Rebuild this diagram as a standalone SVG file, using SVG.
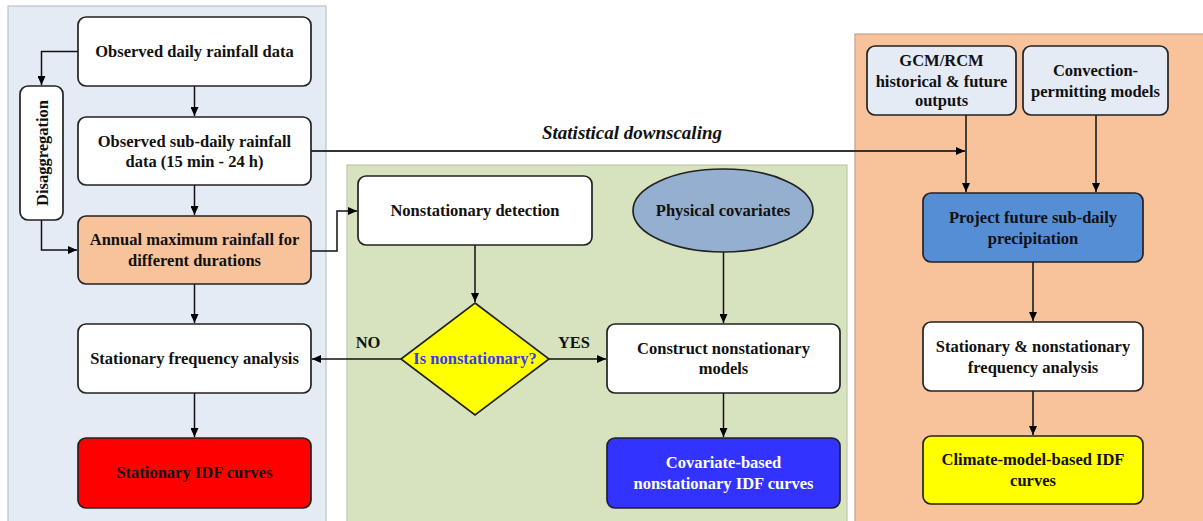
<svg xmlns="http://www.w3.org/2000/svg" width="1203" height="521" viewBox="0 0 1203 521">
<defs>
<marker id="ah" markerUnits="userSpaceOnUse" markerWidth="10" markerHeight="8" refX="9" refY="4" orient="auto">
<path d="M0,0 L9,4 L0,8 Z" fill="#000"/>
</marker>
<style>
.t{font-family:"Liberation Serif","Times New Roman",serif;font-weight:bold;font-size:16.5px;fill:#111;text-anchor:middle}
.box{stroke:#222;stroke-width:1.7}
.c{fill:none;stroke:#111;stroke-width:1.5;marker-end:url(#ah)}
.panel{stroke-width:1.2}
</style>
</defs>
<rect width="1203" height="521" fill="#fff"/>
<g id="panels">
<rect class="panel" x="8" y="6" width="318" height="520" fill="#E4EBF5" stroke="#BCC3CC"/>
<rect class="panel" x="347" y="165" width="500" height="360" fill="#D7E3BF" stroke="#BFC7AE"/>
<rect class="panel" x="855" y="34" width="350" height="490" fill="#F8C39B" stroke="#C9A184"/>
</g>
<g id="connectors">
<path class="c" d="M78,51.5 H41.5 V85"/>
<path class="c" d="M41.5,220 V250 H77"/>
<path class="c" d="M194.5,86 V116"/>
<path class="c" d="M194.5,185 V215"/>
<path class="c" d="M194.5,284 V323"/>
<path class="c" d="M194.5,393 V437"/>
<path class="c" d="M311,251 H337 V211 H357"/>
<path class="c" d="M475,245 V302"/>
<path class="c" d="M401,359 H312"/>
<path class="c" d="M549,359 H606"/>
<path class="c" d="M723.5,252 V323"/>
<path class="c" d="M723.5,393 V437"/>
<path d="M311,151 H965" fill="none" stroke="#333" stroke-width="2" marker-end="url(#ah)"/>
<path class="c" d="M966,115 V192"/>
<path class="c" d="M1096,115 V192"/>
<path class="c" d="M1033,262 V321"/>
<path class="c" d="M1033,391 V435"/>
<text x="632" y="139" style="font-family:'Liberation Serif','Times New Roman',serif;font-weight:bold;font-style:italic;font-size:19px;fill:#111;text-anchor:middle">Statistical downscaling</text>
<text class="t" x="368" y="348">NO</text>
<text class="t" x="574" y="348">YES</text>
</g>
<g id="n-observed-daily">
<rect class="box" x="78" y="17" width="233" height="69" rx="8" fill="#fff"/>
<text class="t" x="194.5" y="57">Observed daily rainfall data</text>
</g>
<g id="n-disaggregation">
<rect class="box" x="20" y="86" width="43" height="134" rx="8" fill="#fff"/>
<text class="t" transform="translate(47.5,153) rotate(-90)" x="0" y="0">Disaggregation</text>
</g>
<g id="n-observed-subdaily">
<rect class="box" x="78" y="117" width="233" height="68" rx="8" fill="#fff"/>
<text class="t" x="194.5" y="146.5">Observed sub-daily rainfall</text>
<text class="t" x="194.5" y="167">data (15 min - 24 h)</text>
</g>
<g id="n-annual-max">
<rect class="box" x="78" y="216" width="233" height="68" rx="8" fill="#F8C39B"/>
<text class="t" x="194.5" y="245">Annual maximum rainfall for</text>
<text class="t" x="194.5" y="265.5">different durations</text>
</g>
<g id="n-stationary-fa">
<rect class="box" x="78" y="324" width="233" height="69" rx="8" fill="#fff"/>
<text class="t" x="194.5" y="364">Stationary frequency analysis</text>
</g>
<g id="n-stationary-idf">
<rect class="box" x="78" y="438" width="233" height="70" rx="8" fill="#FF0000"/>
<text class="t" x="194.5" y="478">Stationary IDF curves</text>
</g>
<g id="n-nonstat-detection">
<rect class="box" x="358" y="176" width="234" height="69" rx="8" fill="#fff"/>
<text class="t" x="475" y="216">Nonstationary detection</text>
</g>
<g id="n-physical-covariates">
<ellipse class="box" cx="723" cy="210.5" rx="90" ry="41.5" fill="#95AFD0"/>
<text class="t" x="723" y="216">Physical covariates</text>
</g>
<g id="n-is-nonstationary">
<polygon class="box" points="475,303 549,359 475,415 401,359" fill="#FFFF00"/>
<text class="t" x="475" y="364" style="fill:#3a3af0">Is nonstationary?</text>
</g>
<g id="n-construct">
<rect class="box" x="607" y="324" width="233" height="69" rx="8" fill="#fff"/>
<text class="t" x="723.5" y="354">Construct nonstationary</text>
<text class="t" x="723.5" y="374">models</text>
</g>
<g id="n-covariate-idf">
<rect class="box" x="607" y="438" width="233" height="70" rx="8" fill="#3333FF"/>
<text class="t" x="723.5" y="468" style="fill:#fff">Covariate-based</text>
<text class="t" x="723.5" y="488.5" style="fill:#fff">nonstationary IDF curves</text>
</g>
<g id="n-gcm">
<rect class="box" x="867" y="46" width="149" height="69" rx="8" fill="#E4EBF5"/>
<text class="t" x="941.5" y="66">GCM/RCM</text>
<text class="t" x="941.5" y="86.5">historical &amp; future</text>
<text class="t" x="941.5" y="106">outputs</text>
</g>
<g id="n-convection">
<rect class="box" x="1023" y="46" width="145" height="69" rx="8" fill="#E4EBF5"/>
<text class="t" x="1095.5" y="76">Convection-</text>
<text class="t" x="1095.5" y="96.5">permitting models</text>
</g>
<g id="n-project">
<rect class="box" x="923" y="193" width="220" height="69" rx="8" fill="#558ED5"/>
<text class="t" x="1033" y="223">Project future sub-daily</text>
<text class="t" x="1033" y="243.5">precipitation</text>
</g>
<g id="n-stat-nonstat-fa">
<rect class="box" x="923" y="322" width="220" height="69" rx="8" fill="#fff"/>
<text class="t" x="1033" y="352">Stationary &amp; nonstationary</text>
<text class="t" x="1033" y="372.5">frequency analysis</text>
</g>
<g id="n-climate-idf">
<rect class="box" x="923" y="436" width="220" height="68" rx="8" fill="#FFFF00"/>
<text class="t" x="1033" y="465">Climate-model-based IDF</text>
<text class="t" x="1033" y="485.5">curves</text>
</g>
</svg>
